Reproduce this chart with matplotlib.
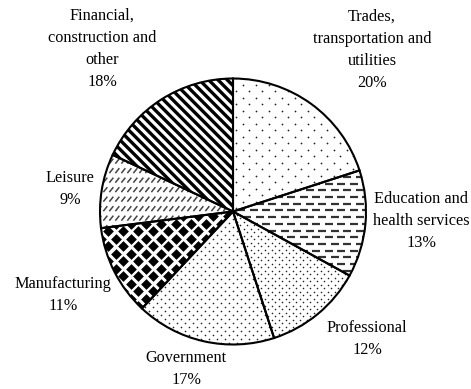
import numpy as np
import matplotlib
matplotlib.use("Agg")
import matplotlib.pyplot as plt
from matplotlib.collections import LineCollection

# employment share by sector, clockwise from 12 o'clock
sectors = ["Trades,\ntransportation and\nutilities",
           "Education and\nhealth services",
           "Professional",
           "Government",
           "Manufacturing",
           "Leisure",
           "Financial,\nconstruction and\nother"]
shares = [20, 13, 12, 17, 11, 9, 18]

# where each label sits (pie radius = 1)
label_xy = [(1.045, 1.214), (1.414, -0.071), (1.008, -0.959), (-0.353, -1.185),
            (-1.278, -0.628), (-1.226, 0.169), (-0.985, 1.222)]

plt.rcParams['font.family'] = ['Liberation Serif', 'DejaVu Serif']

R_PX = 133.0          # pie radius in pixels
px = 1.0 / R_PX       # one pixel in data units

fig = plt.figure(figsize=(4.71, 3.89), dpi=100)
ax = fig.add_axes([0, 0, 1, 1])

wedges, _ = ax.pie(shares, startangle=90, counterclock=False, radius=1,
                   colors=['white'] * len(shares),
                   wedgeprops=dict(linewidth=0))
for w in wedges:
    w.set_zorder(1)


def grid(dx, dy, stagger=True):
    # staggered lattice covering the unit disc
    pts = []
    ys = np.arange(-1.05, 1.05, dy * px)
    for i, y in enumerate(ys):
        off = (dx * px / 2) if (stagger and i % 2) else 0.0
        xs = np.arange(-1.05, 1.05, dx * px) + off
        pts.append(np.column_stack([xs, np.full_like(xs, y)]))
    return np.vstack(pts)


def dots(wedge, dx, dy, size):
    p = grid(dx, dy)
    sc = ax.scatter(p[:, 0], p[:, 1], s=size, color='#222222', linewidths=0, zorder=2)
    sc.set_clip_path(wedge)


def dashes(wedge, length, gap, dy, lw):
    period = length + gap
    segs = []
    ys = np.arange(-1.05, 1.05, dy * px)
    for i, y in enumerate(ys):
        off = (period * px / 2) if i % 2 else 0.0
        for x0 in np.arange(-1.05, 1.05, period * px) + off:
            segs.append([(x0, y), (x0 + length * px, y)])
    lc = LineCollection(segs, colors='#333333', linewidths=lw, zorder=2,
                        capstyle='butt')
    ax.add_collection(lc)
    lc.set_clip_path(wedge)


def slashes(wedge, dx, dy, w, h, lw):
    p = grid(dx, dy, stagger=False)
    segs = [[(x - w / 2 * px, y - h / 2 * px), (x + w / 2 * px, y + h / 2 * px)]
            for x, y in p]
    lc = LineCollection(segs, colors='#444444', linewidths=lw, zorder=2)
    ax.add_collection(lc)
    lc.set_clip_path(wedge)


def diagonals(wedge, spacing, lw):
    segs = []
    for c in np.arange(-2.2, 2.2, spacing * px):
        segs.append([(-1.2, c + 1.2), (1.2, c - 1.2)])
    lc = LineCollection(segs, colors='black', linewidths=lw, zorder=2)
    ax.add_collection(lc)
    lc.set_clip_path(wedge)


def diamonds(wedge, spacing, size):
    p = grid(spacing, spacing / 2)
    sc = ax.scatter(p[:, 0], p[:, 1], s=size, marker='D', color='black',
                    linewidths=0, zorder=2)
    sc.set_clip_path(wedge)


dots(wedges[0], 13, 6.5, 1.6)          # trades
dashes(wedges[1], 8, 4.5, 6.7, 1.6)    # education
dots(wedges[2], 7, 3.5, 1.3)           # professional
dots(wedges[3], 8, 4, 1.4)             # government
diamonds(wedges[4], 15, 30)            # manufacturing
slashes(wedges[5], 6, 9.5, 4, 5, 1.1)  # leisure
diagonals(wedges[6], 9.3, 2.4)         # financial

# outlines on top of the fills
ax.pie(shares, startangle=90, counterclock=False, radius=1,
       colors=['none'] * len(shares),
       wedgeprops=dict(linewidth=1.5, edgecolor='black', zorder=3))

for name, share, (x, y) in zip(sectors, shares, label_xy):
    ax.text(x, y, f"{name}\n{share}%", ha='center', va='center',
            fontsize=11.7, linespacing=1.5, color='black')

ax.set_xlim(-233 / R_PX, 238 / R_PX)
ax.set_ylim(-177.5 / R_PX, 211.5 / R_PX)
ax.set_aspect('auto')
ax.axis('off')

fig.savefig("out.png", dpi=100, facecolor='white')
